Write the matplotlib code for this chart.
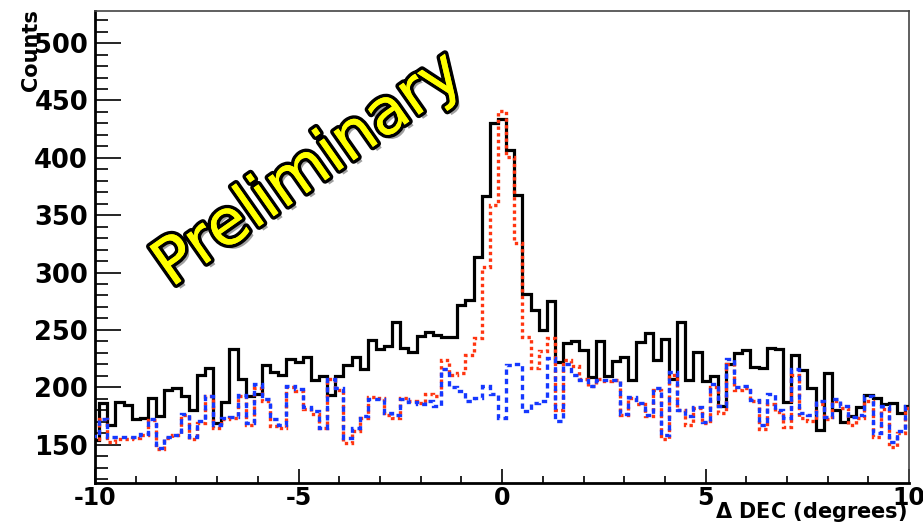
import numpy as np
import matplotlib.pyplot as plt
import matplotlib.patheffects as pe
from matplotlib.ticker import MultipleLocator

plt.rcParams['axes.unicode_minus'] = False

# 101 bins of 0.2 deg, centred on multiples of 0.2
bin_lo, bin_hi, n_bins = -10.1, 10.1, 101

total_counts = [
    154, 186, 167, 187.5, 184.5, 172, 173, 190.5, 174.5, 198,
    199, 192.5, 180, 210.5, 217, 168.5, 187, 233, 207, 192,
    194, 219, 213, 211, 224.5, 222, 226, 206.5, 210, 193,
    210, 219, 226.5, 216, 241, 233, 236, 257, 234.5, 231,
    245, 248, 245.5, 244, 244, 271.5, 276, 313.5, 366.5, 430,
    433.5, 406.5, 368, 281, 267, 249.5, 275, 222, 238.5, 240,
    232.5, 209, 240.5, 210, 222.5, 226.5, 206.5, 239.5, 247, 223.5,
    242, 207, 257, 206.5, 231, 205.5, 210, 184, 220, 230,
    232.5, 218, 216.5, 234.5, 233.5, 187.5, 228.5, 215, 199, 162.5,
    212.5, 180, 169.5, 174.5, 183, 193, 191, 185, 186, 177.5,
    184,
]

background_counts = [
    157.5, 172, 157, 157, 157, 156.5, 159.5, 172.5, 147, 157,
    158.5, 177, 157, 170.5, 192.5, 167.5, 173.5, 174, 193, 169,
    202.5, 189.5, 172, 167.5, 201.5, 198.5, 183, 179, 164.5, 207,
    199, 156, 164.5, 175, 189.5, 190, 177.5, 175.5, 190, 187,
    185, 188, 183.5, 216, 200.5, 196.5, 188, 191, 201.5, 194.5,
    173.5, 219, 220, 179, 186, 188, 225.5, 170.5, 220, 211,
    206, 201, 206, 206, 206.5, 177, 191.5, 186.5, 176, 199,
    158.5, 213, 180.5, 175, 183, 170, 202.5, 184, 224.5, 200.5,
    201, 189, 167, 194, 180, 173, 215.5, 177.5, 175.5, 188,
    174, 190, 184, 174, 176, 192, 160, 184, 152, 162,
    184,
]

signal_counts = [
    154.5, 172, 152, 154.5, 155, 155.5, 158, 171.5, 146, 156,
    158, 176, 154.5, 169, 192, 164.5, 172, 173, 192, 167.5,
    199, 188, 166, 164.5, 200, 197, 181, 177, 164.5, 207,
    198, 151.5, 161.5, 173.5, 191.5, 190.5, 176, 173.5, 191, 188,
    186.5, 194.5, 192, 223.5, 211, 212.5, 228.5, 243, 304.5, 358.5,
    440.5, 400.5, 325.5, 243.5, 217, 231.5, 242.5, 180, 224, 218.5,
    207, 201, 207, 205, 206, 175.5, 191, 185.5, 175, 198,
    155, 210.5, 180, 167.5, 182, 169, 200.5, 177.5, 220, 198,
    199.5, 188, 164, 185, 178, 165, 211, 173.5, 170.5, 185,
    172, 188, 182, 167, 173, 188, 157, 181, 148, 160,
    182,
]

x_ticks = [-10, -5, 0, 5, 10]
y_ticks = [150, 200, 250, 300, 350, 400, 450, 500]

edges = np.linspace(bin_lo, bin_hi, n_bins + 1)

fig = plt.figure(figsize=(9.23, 5.25), dpi=100)
ax = fig.add_axes([0.103, 0.08, 0.882, 0.899])

ax.stairs(total_counts, edges, baseline=None, color='black', lw=2.3, zorder=3)
ax.stairs(signal_counts, edges, baseline=None, color='#ff3510', lw=2.4,
          linestyle=(0, (1, 1)), zorder=4)
ax.stairs(background_counts, edges, baseline=None, color='#1538ff', lw=2.4,
          linestyle=(0, (1.6, 1.2)), zorder=5)

ax.set_xlim(-10, 10)
ax.set_ylim(116.5, 528)
ax.set_xticks(x_ticks)
ax.set_yticks(y_ticks)
ax.xaxis.set_minor_locator(MultipleLocator(1))
ax.yaxis.set_minor_locator(MultipleLocator(10))
ax.tick_params(axis='x', which='major', direction='in', length=10, width=1.2,
               labelsize=17, pad=2)
ax.tick_params(axis='x', which='minor', direction='in', length=5, width=1.2)
ax.tick_params(axis='y', which='major', direction='in', length=18.5, width=1.2,
               labelsize=18.5, pad=5)
ax.tick_params(axis='y', which='minor', direction='in', length=9.3, width=1.2)
for lab in ax.get_xticklabels() + ax.get_yticklabels():
    lab.set_fontweight('bold')

for side in ['left', 'bottom']:
    ax.spines[side].set_linewidth(2)
for side in ['top', 'right']:
    ax.spines[side].set_linewidth(1.2)
    ax.spines[side].set_color('#444444')

fig.text(0.983, 0.002, r'$\mathbf{\Delta}$ DEC (degrees)', ha='right', va='bottom',
         fontsize=15, fontweight='bold')
fig.text(0.034, 0.982, 'Counts', rotation=90, ha='center', va='top',
         fontsize=15, fontweight='bold')

prelim = fig.text(0.334, 0.676, 'Preliminary', rotation=35, ha='center',
                  va='center', fontsize=46, color='#ffff00', zorder=10)
prelim.set_path_effects([
    pe.SimplePatchShadow(offset=(3, -3), shadow_rgbFace='#888888', alpha=0.8),
    pe.withStroke(linewidth=5, foreground='black'),
    pe.Normal(),
])

fig.savefig('out.png', dpi=100)
